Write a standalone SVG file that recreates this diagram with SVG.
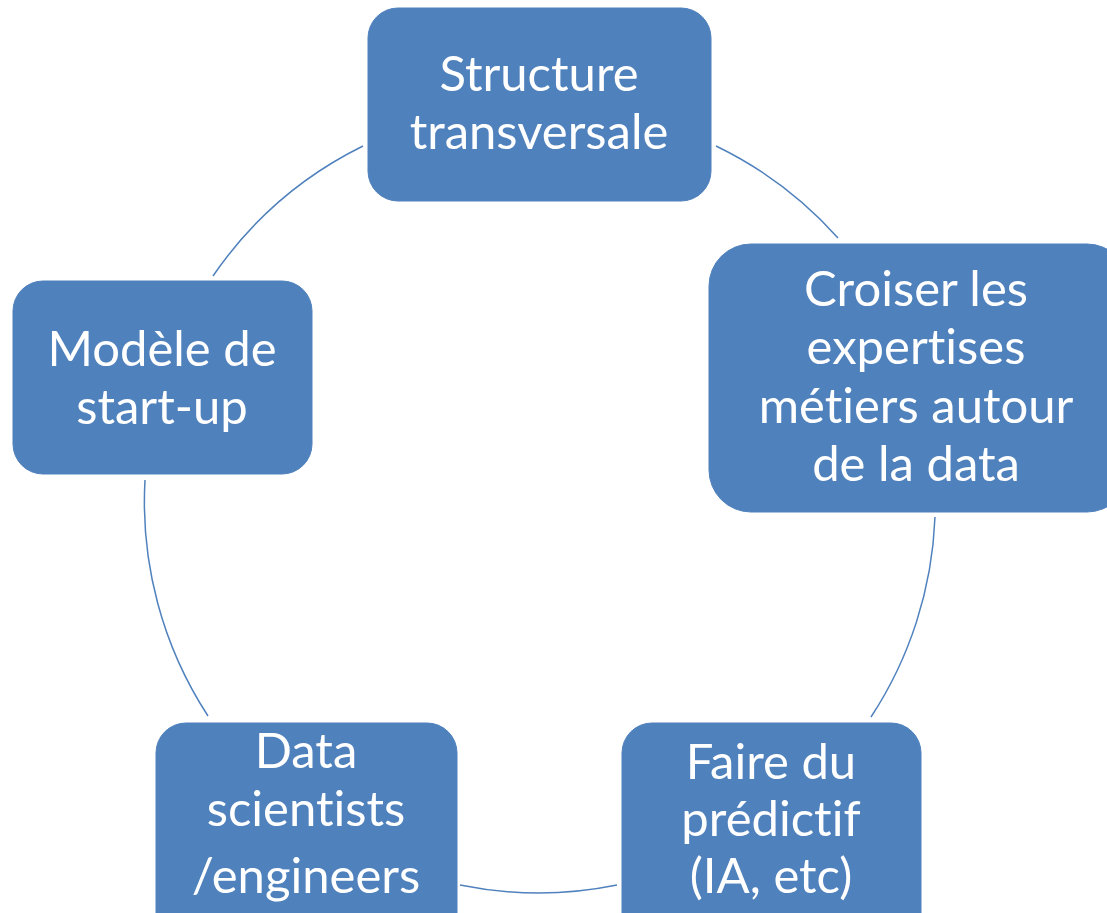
<svg xmlns="http://www.w3.org/2000/svg" width="1107" height="913" viewBox="0 0 1107 913">
<style>
.box{fill:#4F81BD;stroke:#4F81BD;stroke-width:1}
.lbl{fill:#FFFFFF;font-family:Lato,"Open Sans","Liberation Sans",sans-serif;font-size:49px;text-anchor:middle;font-variant-ligatures:none;font-feature-settings:"liga" 0,"clig" 0,"dlig" 0,"calt" 0}
.arc{fill:none;stroke:#4F81BD;stroke-width:1.5}
</style>
<rect width="1107" height="913" fill="#FFFFFF"/>
<g id="connectors">
<path class="arc" d="M716,146 A392,392 0 0 1 838,238"/>
<path class="arc" d="M935,517 A392,392 0 0 1 871,717"/>
<path class="arc" d="M617,885 A392,392 0 0 1 460,885"/>
<path class="arc" d="M208,716 A392,392 0 0 1 145,480"/>
<path class="arc" d="M213,276 A392,392 0 0 1 363,146"/>
</g>
<g id="node-structure">
<rect class="box" x="368" y="8" width="343" height="193" rx="30"/>
<text class="lbl" x="539" y="91">Structure</text>
<text class="lbl" x="539" y="149">transversale</text>
</g>
<g id="node-croiser">
<rect class="box" x="709" y="244" width="420" height="268" rx="42"/>
<text class="lbl" x="916" y="306">Croiser les</text>
<text class="lbl" x="916" y="364">expertises</text>
<text class="lbl" x="916" y="423">métiers autour</text>
<text class="lbl" x="916" y="481">de la data</text>
</g>
<g id="node-predictif">
<rect class="box" x="622" y="723" width="299" height="230" rx="30"/>
<text class="lbl" x="771" y="779">Faire du</text>
<text class="lbl" x="771" y="836">prédictif</text>
<text class="lbl" x="771" y="893">(IA, etc)</text>
</g>
<g id="node-datascientists">
<rect class="box" x="156" y="723" width="301" height="230" rx="30"/>
<text class="lbl" x="306" y="768">Data</text>
<text class="lbl" x="306" y="826">scientists</text>
<text class="lbl" x="306" y="893">/engineers</text>
</g>
<g id="node-startup">
<rect class="box" x="13" y="281" width="299" height="193" rx="30"/>
<text class="lbl" x="162" y="366">Modèle de</text>
<text class="lbl" x="162" y="424">start-up</text>
</g>
</svg>
